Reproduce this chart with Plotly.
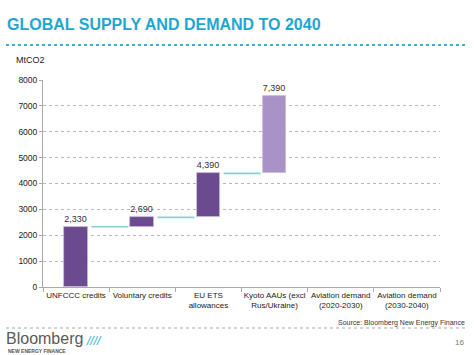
import plotly.graph_objects as go

categories = ["UNFCCC credits", "Voluntary credits", "EU ETS<br>allowances",
              "Kyoto AAUs (excl<br>Rus/Ukraine)", "Aviation demand<br>(2020-2030)",
              "Aviation demand<br>(2030-2040)"]
cumulative = [2330, 2690, 4390, 7390]
bar_colors = ["#6b4a8f", "#6b4a8f", "#6b4a8f", "#a993c6"]
y_ticks = [0, 1000, 2000, 3000, 4000, 5000, 6000, 7000, 8000]

x_pos = list(range(len(categories)))
bases = [0] + cumulative[:-1]
heights = [c - b for c, b in zip(cumulative, bases)]
BW = 0.36

fig = go.Figure()
fig.add_trace(go.Bar(
    x=x_pos[:len(cumulative)], y=heights, base=bases, width=BW,
    marker=dict(color=bar_colors, line=dict(color="#c9bddb", width=0.8)),
    text=[f"{v:,}" for v in cumulative], textposition="outside",
    textfont=dict(size=9, color="#333333", family="Liberation Sans, Arial"),
    cliponaxis=False, showlegend=False, hoverinfo="skip"))

# connectors
for i in range(len(cumulative) - 1):
    fig.add_trace(go.Scatter(
        x=[i + BW / 2 + 0.05, i + 1 - BW / 2 - 0.03], y=[cumulative[i], cumulative[i]],
        mode="lines", line=dict(color="#86d3d3", width=1.6),
        showlegend=False, hoverinfo="skip"))

fig.update_layout(
    width=474, height=355,
    margin=dict(l=43, r=34, t=80, b=68, autoexpand=False),
    paper_bgcolor="white", plot_bgcolor="white",
    font=dict(family="Liberation Sans, Arial", color="#222222"),
    bargap=0,
    xaxis=dict(range=[-0.5, 5.5], tickvals=x_pos, ticktext=categories, ticks="",
               tickangle=0, automargin=False,
               tickfont=dict(size=8, color="#222222"), showgrid=False,
               showline=True, linecolor="#aaaaaa", linewidth=1, zeroline=False,
               minor=dict(tick0=-0.5, dtick=1, ticks="outside", ticklen=4,
                          tickcolor="#aaaaaa", showgrid=False),
               fixedrange=True),
    yaxis=dict(range=[0, 8000], tickvals=y_ticks, showgrid=True, automargin=False,
               gridcolor="#b8b8b8", griddash="dot", gridwidth=1,
               showline=True, linecolor="#aaaaaa", linewidth=1,
               zeroline=False, ticks="outside", ticklen=3, tickcolor="#aaaaaa",
               tickfont=dict(size=8.5, color="#222222"), fixedrange=True),
)

# title
fig.add_annotation(text="<b>GLOBAL SUPPLY AND DEMAND TO 2040</b>", xref="paper", yref="paper",
                   x=(5 - 43) / 397, y=1 + (80 - 25) / 207, xanchor="left", yanchor="middle",
                   showarrow=False, font=dict(size=16, color="#1fa6d0",
                                              family="Liberation Sans, Arial"))
# title dotted line
fig.add_shape(type="line", xref="paper", yref="paper",
              x0=(6 - 43) / 397, x1=(467 - 43) / 397,
              y0=1 + (80 - 45) / 207, y1=1 + (80 - 45) / 207,
              line=dict(color="#35b3d3", width=2, dash="dot"))
# unit label
fig.add_annotation(text="MtCO2", xref="paper", yref="paper",
                   x=(14 - 43) / 397, y=1 + (80 - 60) / 207, xanchor="left", yanchor="middle",
                   showarrow=False, font=dict(size=9, color="#222222"))
# source
fig.add_annotation(text="Source: Bloomberg New Energy Finance", xref="paper", yref="paper",
                   x=(467 - 43) / 397, y=-(323 - 287) / 207, xanchor="right", yanchor="middle",
                   showarrow=False, font=dict(size=7, color="#333333"))
fig.add_shape(type="line", xref="paper", yref="paper",
              x0=(6 - 43) / 397, x1=(467 - 43) / 397,
              y0=-(328 - 287) / 207, y1=-(328 - 287) / 207,
              line=dict(color="#aaaaaa", width=1, dash="dot"))
# logo
fig.add_annotation(text="Bloomberg", xref="paper", yref="paper",
                   x=(4 - 43) / 397, y=-(338 - 287) / 207, xanchor="left", yanchor="middle",
                   showarrow=False, font=dict(size=16, color="#5a5a5a",
                                              family="Liberation Sans, Arial"))
fig.add_annotation(text="<i>////</i>", xref="paper", yref="paper",
                   x=(84 - 43) / 397, y=-(341 - 287) / 207, xanchor="left", yanchor="middle",
                   showarrow=False, font=dict(size=12, color="#2fb0cf"))
fig.add_annotation(text="<b>NEW ENERGY FINANCE</b>", xref="paper", yref="paper",
                   x=(6 - 43) / 397, y=-(350.5 - 287) / 207, xanchor="left", yanchor="middle",
                   showarrow=False, font=dict(size=5, color="#555555"))
fig.add_annotation(text="16", xref="paper", yref="paper",
                   x=(466 - 43) / 397, y=-(342 - 287) / 207, xanchor="right", yanchor="middle",
                   showarrow=False, font=dict(size=8, color="#777777"))

fig.write_html("out.html", config={"displayModeBar": False},
               post_script="document.body.style.margin='0';document.body.style.overflow='hidden';")
